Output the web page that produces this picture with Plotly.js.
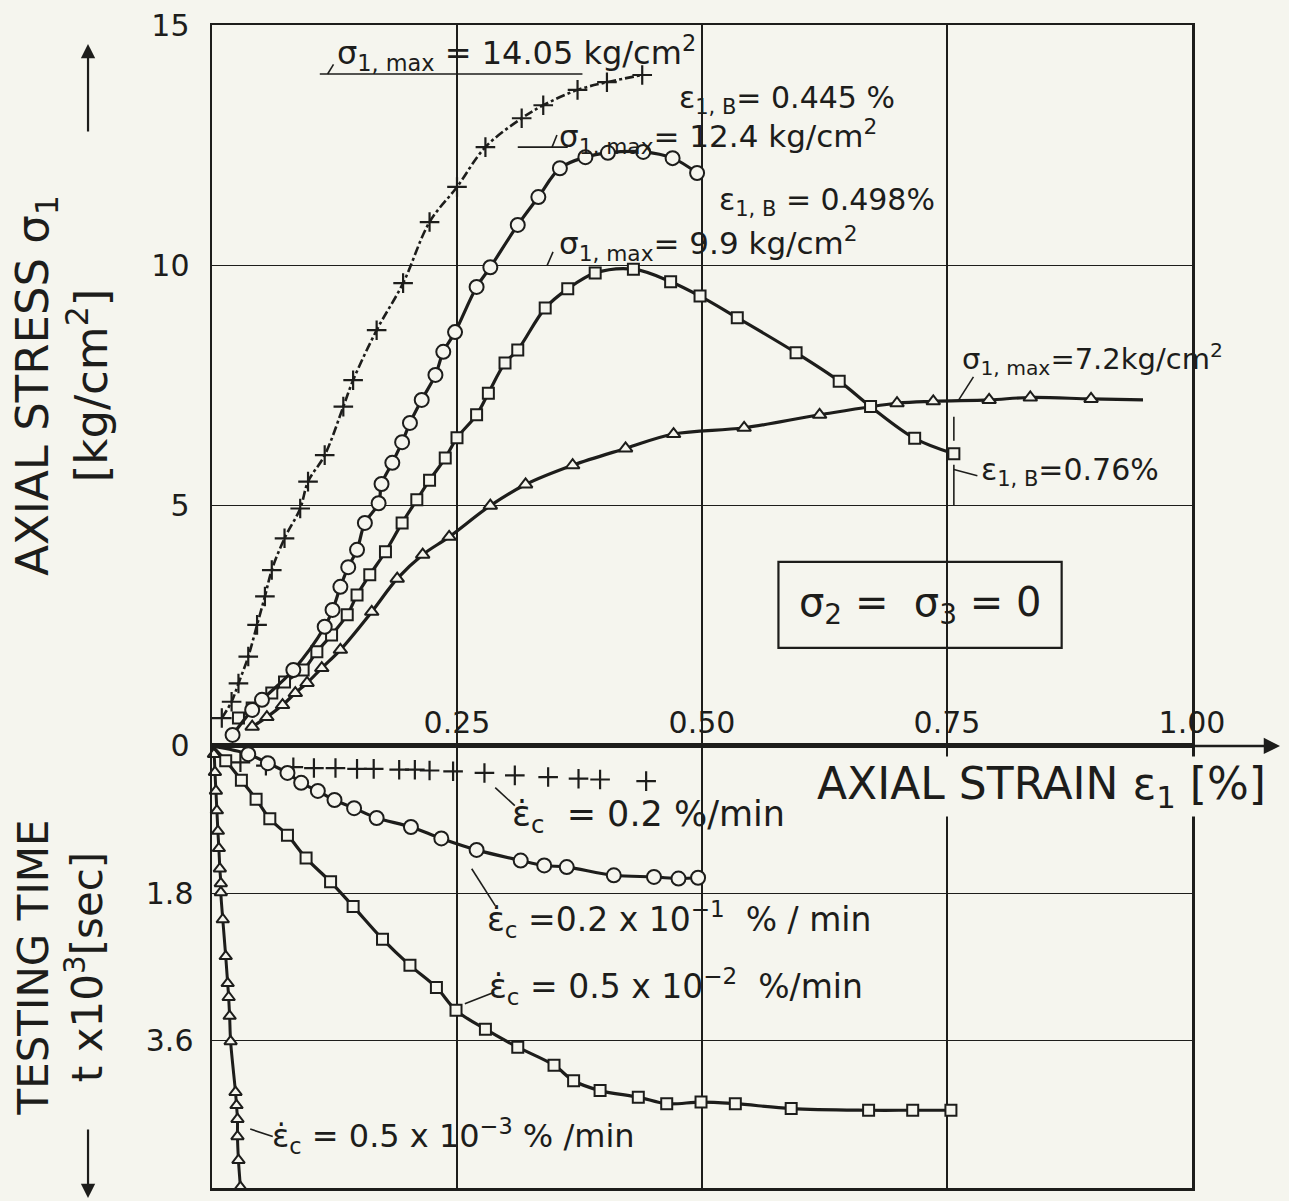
<!DOCTYPE html>
<html>
<head>
<meta charset="utf-8">
<script src="https://cdn.plot.ly/plotly-3.0.1.min.js"></script>
<style>html,body{margin:0;padding:0;background:#f5f5ee;}#chart{width:1289px;height:1201px;}</style>
</head>
<body>
<div id="chart"></div>
<script>
// ---------- data ----------
// upper panel: axial stress [kg/cm2] vs axial strain [%]
const crossUpStrain = [0.010,0.020,0.027,0.037,0.046,0.054,0.061,0.074,0.090,0.098,0.115,0.134,0.144,0.168,0.195,0.222,0.250,0.279,0.316,0.338,0.373,0.403,0.439];
const crossUpStress = [0.58,0.92,1.30,1.86,2.52,3.11,3.66,4.32,4.94,5.50,6.05,7.06,7.61,8.65,9.63,10.90,11.63,12.46,13.06,13.33,13.65,13.81,13.96];

const circUpStrain = [0.021,0.041,0.051,0.083,0.115,0.123,0.131,0.139,0.148,0.156,0.170,0.173,0.184,0.194,0.202,0.214,0.228,0.236,0.248,0.270,0.284,0.312,0.333,0.355,0.381,0.404,0.440,0.470,0.495];
const circUpStress = [0.23,0.75,0.96,1.58,2.48,2.83,3.31,3.72,4.08,4.64,5.05,5.45,5.89,6.32,6.72,7.20,7.72,8.20,8.61,9.55,9.96,10.84,11.42,12.02,12.25,12.34,12.36,12.23,11.92];

const sqUpStrain = [0.027,0.041,0.061,0.074,0.093,0.107,0.122,0.138,0.148,0.161,0.177,0.194,0.209,0.222,0.238,0.250,0.270,0.282,0.299,0.312,0.340,0.363,0.391,0.430,0.468,0.498,0.536,0.596,0.640,0.672,0.717,0.757];
const sqUpStress = [0.58,0.79,1.10,1.33,1.58,1.96,2.31,2.73,3.14,3.56,4.04,4.64,5.12,5.53,5.99,6.41,6.89,7.34,7.97,8.24,9.11,9.51,9.84,9.92,9.66,9.36,8.91,8.18,7.59,7.06,6.40,6.08];

const triUpStrain = [0.041,0.056,0.072,0.085,0.097,0.112,0.131,0.163,0.189,0.215,0.242,0.284,0.320,0.368,0.422,0.471,0.543,0.620,0.699,0.736,0.793,0.835,0.897];
const triUpStress = [0.40,0.60,0.85,1.10,1.31,1.62,2.00,2.79,3.48,3.98,4.35,5.00,5.44,5.84,6.19,6.49,6.62,6.89,7.13,7.17,7.20,7.25,7.22];
const triCurveEnd = {strain: 0.95, stress: 7.20};

// lower panel: testing time [x10^3 sec] vs axial strain [%]
const crossLoStrain = [0.029,0.055,0.083,0.104,0.126,0.148,0.165,0.191,0.207,0.222,0.246,0.278,0.309,0.343,0.374,0.396,0.443];
const crossLoTime   = [0.20,0.24,0.26,0.27,0.27,0.28,0.28,0.29,0.29,0.30,0.31,0.33,0.36,0.38,0.40,0.41,0.43];

const circLoStrain = [0.037,0.057,0.077,0.091,0.108,0.125,0.145,0.168,0.203,0.234,0.270,0.315,0.339,0.362,0.410,0.451,0.476,0.496];
const circLoTime   = [0.10,0.21,0.33,0.45,0.55,0.66,0.76,0.88,0.99,1.13,1.27,1.40,1.46,1.48,1.58,1.60,1.62,1.61];

const sqLoStrain = [0.014,0.030,0.045,0.059,0.077,0.096,0.121,0.144,0.174,0.202,0.229,0.249,0.279,0.312,0.349,0.369,0.396,0.435,0.464,0.499,0.534,0.591,0.670,0.715,0.754];
const sqLoTime   = [0.18,0.42,0.65,0.89,1.09,1.37,1.66,1.96,2.36,2.68,2.95,3.23,3.46,3.68,3.90,4.09,4.21,4.29,4.37,4.35,4.37,4.43,4.45,4.45,4.45];

const triLoStrain = [0.002,0.003,0.004,0.005,0.006,0.007,0.008,0.009,0.009,0.011,0.014,0.016,0.017,0.018,0.019,0.024,0.025,0.026,0.026,0.027,0.029];
const triLoTime   = [0.10,0.32,0.55,0.79,1.04,1.25,1.50,1.68,1.79,2.12,2.57,2.90,3.07,3.30,3.61,4.23,4.39,4.56,4.77,5.06,5.39];

const curveOrigin = 0;

// axis ticks
const xTickVals = [0.25,0.50,0.75,1.00];
const xTickText = ['0.25','0.50','0.75','1.00'];
const stressTickVals = [0,5,10,15];
const stressTickText = ['0','5','10','15'];
const timeTickVals = [1.8,3.6,5.4];
const timeTickText = ['1.8','3.6','5.4'];

// ---------- styling ----------
const INK = '#1d1d1b';
const BG = '#f5f5ee';
const FONT = 'DejaVu Sans';
const EDOT = '\u03B5\u0307';
const NB = '\u00A0';

function mk(symbol, size){
  return {symbol: symbol, size: size, color: BG, line: {color: INK, width: 2}};
}

const traces = [];
// upper panel
traces.push({x: crossUpStrain, y: crossUpStress, xaxis:'x', yaxis:'y', mode:'lines+markers',
  line:{color:INK, width:2.6, dash:'dashdot', shape:'spline'},
  marker:{symbol:'cross-thin-open', size:14, color:INK, line:{color:INK, width:2.2}}, name:'0.2 %/min'});
traces.push({x: triUpStrain.concat([triCurveEnd.strain]), y: triUpStress.concat([triCurveEnd.stress]), xaxis:'x', yaxis:'y', mode:'lines',
  line:{color:INK, width:3.2, shape:'spline'}, hoverinfo:'skip', name:'0.5e-3 curve'});
traces.push({x: triUpStrain, y: triUpStress, xaxis:'x', yaxis:'y', mode:'markers',
  marker: mk('triangle-up', 12), name:'0.5e-3 %/min'});
traces.push({x: sqUpStrain, y: sqUpStress, xaxis:'x', yaxis:'y', mode:'lines+markers',
  line:{color:INK, width:3.2, shape:'spline'}, marker: mk('square', 11), name:'0.5e-2 %/min'});
traces.push({x: circUpStrain, y: circUpStress, xaxis:'x', yaxis:'y', mode:'lines+markers',
  line:{color:INK, width:3.2, shape:'spline'}, marker: mk('circle', 14), name:'0.2e-1 %/min'});

// lower panel
traces.push({x: crossLoStrain, y: crossLoTime, xaxis:'x2', yaxis:'y2', mode:'markers',
  marker:{symbol:'cross-thin-open', size:14, color:INK, line:{color:INK, width:2.2}}, name:'0.2 %/min time'});
traces.push({x: [curveOrigin].concat(triLoStrain), y: [curveOrigin].concat(triLoTime), xaxis:'x2', yaxis:'y2', mode:'lines',
  line:{color:INK, width:3, shape:'spline'}, hoverinfo:'skip', name:'tri time curve'});
traces.push({x: triLoStrain, y: triLoTime, xaxis:'x2', yaxis:'y2', mode:'markers',
  marker: mk('triangle-up', 11), cliponaxis:false, name:'0.5e-3 %/min time'});
traces.push({x: [curveOrigin].concat(sqLoStrain), y: [curveOrigin].concat(sqLoTime), xaxis:'x2', yaxis:'y2', mode:'lines',
  line:{color:INK, width:3.2, shape:'spline'}, hoverinfo:'skip', name:'sq time curve'});
traces.push({x: sqLoStrain, y: sqLoTime, xaxis:'x2', yaxis:'y2', mode:'markers',
  marker: mk('square', 11), name:'0.5e-2 %/min time'});
traces.push({x: [curveOrigin].concat(circLoStrain), y: [curveOrigin].concat(circLoTime), xaxis:'x2', yaxis:'y2', mode:'lines',
  line:{color:INK, width:3.2, shape:'spline'}, hoverinfo:'skip', name:'circ time curve'});
traces.push({x: circLoStrain, y: circLoTime, xaxis:'x2', yaxis:'y2', mode:'markers',
  marker: mk('circle', 14), name:'0.2e-1 %/min time'});

// ---------- annotations ----------
function note(x, y, yref, text, size, opts){
  return Object.assign({x:x, y:y, xref:'x', yref:yref, text:text, showarrow:false,
    xanchor:'left', yanchor:'middle', font:{family:FONT, size:size, color:INK}}, opts||{});
}
const annotations = [
  note(0.1255, 14.42, 'y', 'σ<sub>1, max</sub>' + NB + '= 14.05 kg/cm<sup>2</sup>', 32),
  note(0.4745, 13.45, 'y', 'ε<sub>1, B</sub>= 0.445 %', 30),
  note(0.352, 12.68, 'y', 'σ<sub>1, max</sub>= 12.4 kg/cm<sup>2</sup>', 31),
  note(0.515, 11.33, 'y', 'ε<sub>1, B</sub>' + NB + '= 0.498%', 30),
  note(0.352, 10.45, 'y', 'σ<sub>1, max</sub>= 9.9 kg/cm<sup>2</sup>', 31),
  note(0.763, 8.05, 'y', 'σ<sub>1, max</sub>=7.2kg/cm<sup>2</sup>', 29),
  note(0.783, 5.70, 'y', 'ε<sub>1, B</sub>=0.76%', 30),
  note(0.722, 2.93, 'y', 'σ<sub>2</sub>' + NB + '=' + NB + NB + 'σ<sub>3</sub>' + NB + '=' + NB + '0', 40, {xanchor:'center'}),
  note(0.304, 0.86, 'y2', EDOT + '<sub>c</sub>' + NB + NB + '= 0.2 %/min', 35),
  note(0.279, 2.12, 'y2', EDOT + '<sub>c</sub>' + NB + '=0.2 x 10<sup>−1</sup>' + NB + NB + '% / min', 33),
  note(0.281, 2.94, 'y2', EDOT + '<sub>c</sub>' + NB + '= 0.5 x 10<sup>−2</sup>' + NB + NB + '%/min', 33),
  note(0.059, 4.77, 'y2', EDOT + '<sub>c</sub>' + NB + '= 0.5 x 10<sup>−3</sup> % /min', 32),
  // x axis title
  note(0.615, 0.50, 'y2', 'AXIAL STRAIN ε<sub>1</sub> [%]', 44, {bgcolor:BG}),
  // axis arrows
  {xref:'paper', yref:'y', x:1.0898, y:0, ax:-88, ay:0, text:'', showarrow:true,
    arrowhead:2, arrowsize:1.3, arrowwidth:2.5, arrowcolor:INK, standoff:0, startstandoff:0},
  {xref:'paper', yref:'paper', x:-0.1265, y:0.9837, ax:0, ay:89, text:'', showarrow:true,
    arrowhead:2, arrowsize:1.3, arrowwidth:2.2, arrowcolor:INK, standoff:0},
  {xref:'paper', yref:'paper', x:-0.1265, y:-0.0086, ax:0, ay:-70, text:'', showarrow:true,
    arrowhead:2, arrowsize:1.3, arrowwidth:2.2, arrowcolor:INK, standoff:0}
];

// leader lines of the labels [x0, y0, x1, y1, yref]
const leaders = [
  [0.110,13.98,0.378,13.98,'y'], [0.118,13.98,0.124,14.18,'y'],
  [0.312,12.46,0.363,12.46,'y'], [0.347,12.46,0.352,12.71,'y'],
  [0.342,10.00,0.348,10.28,'y'],
  [0.761,7.17,0.777,7.68,'y'],
  [0.757,6.85,0.757,6.35,'y'], [0.757,5.85,0.757,5.00,'y'], [0.757,5.75,0.781,5.62,'y'],
  [0.289,0.51,0.309,0.73,'y2'],
  [0.265,1.50,0.289,1.95,'y2'],
  [0.258,3.15,0.288,3.01,'y2'],
  [0.039,4.68,0.062,4.77,'y2']
];
const shapes = leaders.map(function(l){
  return {type:'line', xref:'x', yref:l[4], x0:l[0], y0:l[1], x1:l[2], y1:l[3], line:{color:INK, width:1.6}};
});
shapes.push({type:'rect', xref:'x', yref:'y', x0:0.578, x1:0.867, y0:2.04, y1:3.83, line:{color:INK, width:2.2}, fillcolor:'rgba(0,0,0,0)'});

const axisCommon = {showline:true, linecolor:INK, linewidth:2.5, mirror:true, zeroline:false,
  showgrid:true, gridcolor:INK, gridwidth:1.4, ticks:'', tickfont:{family:FONT, size:30, color:INK}};

const layout = {
  width:1289, height:1201,
  margin:{l:212, r:97, t:25, b:13},
  paper_bgcolor:BG, plot_bgcolor:BG,
  showlegend:false,
  font:{family:FONT, color:INK, size:30},
  xaxis: Object.assign({}, axisCommon, {domain:[0,1], range:[0,1], anchor:'y', tickvals:xTickVals, ticktext:xTickText,
    ticklabelposition:'inside', ticklabelstandoff:10, ticklabeloverflow:'allow'}),
  xaxis2: Object.assign({}, axisCommon, {domain:[0,1], range:[0,1], anchor:'y2', tickvals:xTickVals, showticklabels:false}),
  yaxis: Object.assign({}, axisCommon, {domain:[0.3801,1], range:[0,15], anchor:'x', tickvals:stressTickVals, ticktext:stressTickText,
    ticklabelstandoff:14, ticklabeloverflow:'allow',
    title:{text:'AXIAL STRESS σ<sub>1</sub><br>[kg/cm<sup>2</sup>]', font:{family:FONT, size:45, color:INK}, standoff:30}}),
  yaxis2: Object.assign({}, axisCommon, {domain:[0,0.3801], range:[5.4,0], anchor:'x2', tickvals:timeTickVals, ticktext:timeTickText,
    ticklabelstandoff:10,
    title:{text:'TESTING TIME<br>t x10<sup>3</sup>[sec]', font:{family:FONT, size:42, color:INK}, standoff:30}}),
  annotations: annotations,
  shapes: shapes
};

Plotly.newPlot('chart', traces, layout, {displayModeBar:false, staticPlot:true});
</script>
</body>
</html>
